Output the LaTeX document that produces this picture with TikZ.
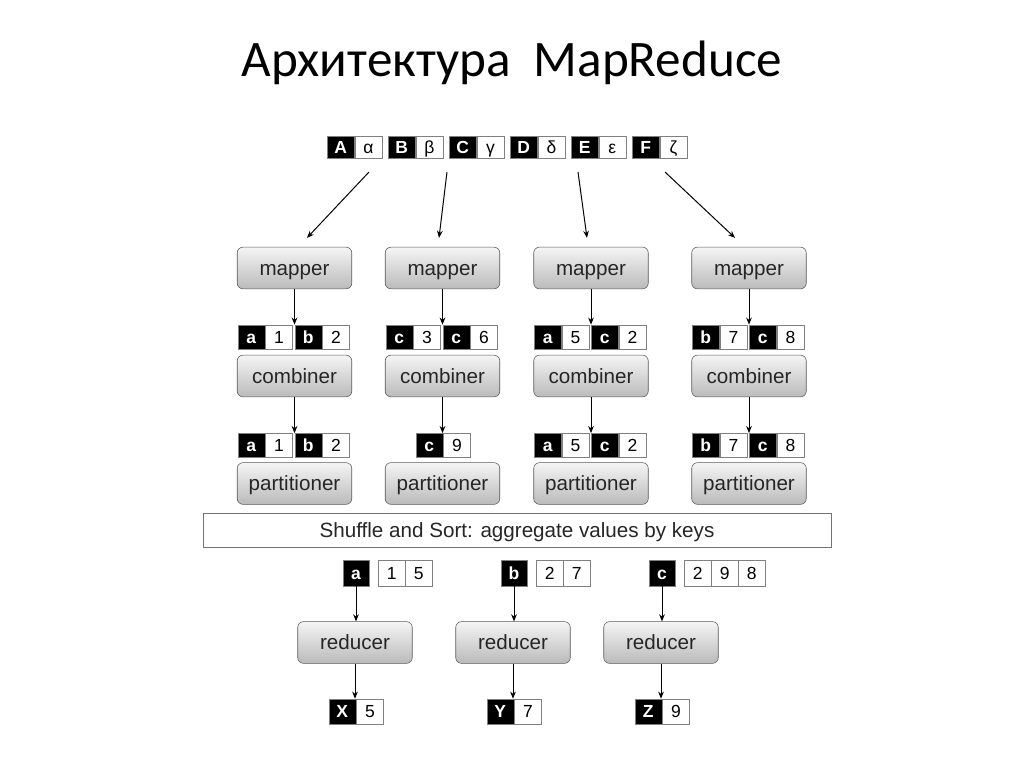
\documentclass[tikz,border=0pt]{standalone}
\usepackage{fontspec}
\setmainfont{Liberation Sans}
\newfontfamily\titlefont{Carlito}
\usetikzlibrary{positioning, arrows.meta, calc}

\begin{document}
\begin{tikzpicture}[x=0.703125pt, y=-0.703125pt,
    proc/.style={draw=black!65, rounded corners=4pt, top color=black!4, bottom color=black!27, minimum width=80.5pt, minimum height=29.3pt, inner sep=0pt, text height=10pt, text depth=0pt, text=black!85, font=\fontsize{14.5}{16}\selectfont},
    keybox/.style={draw=black!50, fill=black, text=white, minimum width=19pt, minimum height=17pt, inner sep=0pt, text height=8.6pt, text depth=0pt, font=\fontsize{12.3}{14}\selectfont\bfseries},
    valbox/.style={draw=black!50, fill=white, text=black, minimum width=19pt, minimum height=17pt, inner sep=0pt, text height=8.6pt, text depth=0pt, font=\fontsize{12.3}{14}\selectfont},
    flow/.style={-{Stealth[length=5pt, width=4pt]}, line width=0.7pt}]
  \useasboundingbox (0,0) rectangle (1024,768);
  \node[font=\titlefont\fontsize{36}{44}\selectfont, anchor=base] (title) at (512,77) {Архитектура\ \ MapReduce};

  % input pairs
  \foreach \k/\v [count=\i] in {A/α, B/β, C/γ, D/δ, E/ε, F/ζ} {
    \node[keybox, minimum height=15.5pt, anchor=west] (tk\i) at ({327+61*(\i-1)},147) {\k};
    \node[valbox, minimum height=15.5pt, right=0pt of tk\i] (tv\i) {\v};
  }

  % mapper, combiner, partitioner columns
  \foreach \c/\x in {1/294.5, 2/442.5, 3/591, 4/749} {
    \node[proc] (m\c) at (\x,268) {mapper};
    \node[proc] (c\c) at (\x,376) {combiner};
    \node[proc] (p\c) at (\x,483.5) {partitioner};
  }

  % mapper output
  \foreach \c/\x/\ka/\va/\kb/\vb in {1/294.5/a/1/b/2, 2/442.5/c/3/c/6, 3/591/a/5/c/2, 4/749/b/7/c/8} {
    \node[keybox, anchor=west] (mka\c) at (\x-57,337) {\ka};
    \node[valbox, right=0pt of mka\c] (mva\c) {\va};
    \node[keybox, anchor=west] (mkb\c) at (\x,337) {\kb};
    \node[valbox, right=0pt of mkb\c] (mvb\c) {\vb};
  }

  % combiner output
  \foreach \c/\x/\ka/\va/\kb/\vb in {1/294.5/a/1/b/2, 3/591/a/5/c/2, 4/749/b/7/c/8} {
    \node[keybox, anchor=west] (cka\c) at (\x-57,445.5) {\ka};
    \node[valbox, right=0pt of cka\c] (cva\c) {\va};
    \node[keybox, anchor=west] (ckb\c) at (\x,445.5) {\kb};
    \node[valbox, right=0pt of ckb\c] (cvb\c) {\vb};
  }
  \node[keybox, anchor=west] (cka2) at (415.5,445.5) {c};
  \node[valbox, right=0pt of cka2] (cva2) {9};

  \foreach \c in {1,...,4} {
    \draw[flow] (m\c.south) -- (m\c.south |- mka\c.north);
    \draw[flow] (c\c.south) -- (c\c.south |- cka\c.north);
  }

  % input arrows
  \coordinate (s1) at (369,172);
  \coordinate (s2) at (447,172);
  \coordinate (s3) at (578,172);
  \coordinate (s4) at (665,172);
  \draw[flow] (s1) -- ($(m1.north)+(12.5,-9)$);
  \draw[flow] (s2) -- ($(m2.north)+(-3.5,-9)$);
  \draw[flow] (s3) -- ($(m3.north)+(-4,-9)$);
  \draw[flow] (s4) -- ($(m4.north)+(-14,-9)$);

  \node[draw=black!55, fill=white, minimum width=441.6pt, minimum height=23.9pt, inner sep=0pt, text height=10pt, text depth=0pt, font=\fontsize{14.5}{16}\selectfont, text=black!85] (shuffle) at (517,530) {Shuffle and Sort: aggregate values by keys};

  % reduce side
  \foreach \c/\x/\k/\ok/\ov in {1/355/a/X/5, 2/513/b/Y/7, 3/661/c/Z/9} {
    \node[keybox, minimum width=18.3pt, minimum height=18.3pt] (bk\c) at (\x+1,573) {\k};
    \node[proc] (r\c) at (\x,642.5) {reducer};
    \node[keybox, minimum height=17.6pt, anchor=west] (ok\c) at (\x-26.5,711.5) {\ok};
    \node[valbox, minimum height=17.6pt, right=0pt of ok\c] (ov\c) {\ov};
    \draw[flow] (bk\c.south) -- (bk\c.south |- r\c.north);
    \draw[flow] (r\c.south) -- (r\c.south |- ok\c.north);
  }
  \node[valbox, minimum width=18.6pt, minimum height=18.3pt, right=6.3pt of bk1] (bv1a) {1};
  \node[valbox, minimum width=18.6pt, minimum height=18.3pt, right=0pt of bv1a] (bv1b) {5};
  \node[valbox, minimum width=18.6pt, minimum height=18.3pt, right=6.3pt of bk2] (bv2a) {2};
  \node[valbox, minimum width=18.6pt, minimum height=18.3pt, right=0pt of bv2a] (bv2b) {7};
  \node[valbox, minimum width=18.6pt, minimum height=18.3pt, right=6.3pt of bk3] (bv3a) {2};
  \node[valbox, minimum width=18.6pt, minimum height=18.3pt, right=0pt of bv3a] (bv3b) {9};
  \node[valbox, minimum width=18.6pt, minimum height=18.3pt, right=0pt of bv3b] (bv3c) {8};
\end{tikzpicture}
\end{document}
